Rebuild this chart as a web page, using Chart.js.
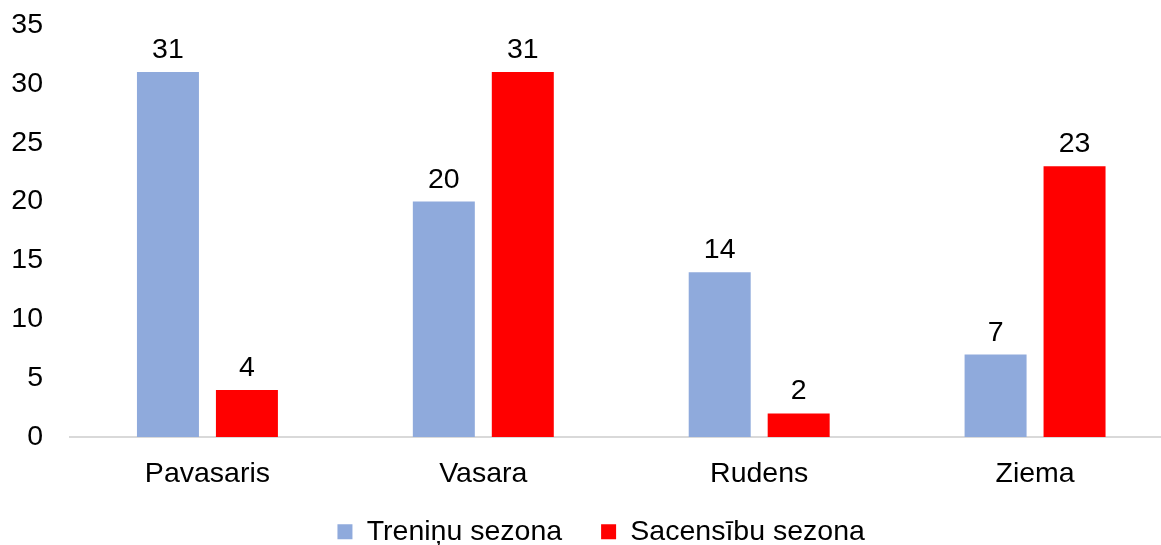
<!DOCTYPE html>
<html>
<head>
<meta charset="utf-8">
<script src="https://cdn.jsdelivr.net/npm/chart.js@4"></script>
<style>
html,body{margin:0;padding:0;background:#fff;overflow:hidden;}
#wrap{width:1161px;height:545px;}
</style>
</head>
<body>
<div id="wrap"><canvas id="c" width="1161" height="545"></canvas></div>
<script>
const categories = ["Pavasaris", "Vasara", "Rudens", "Ziema"];
const treninuSezona = [31, 20, 14, 7];
const sacensibuSezona = [4, 31, 2, 23];
const seriesNames = ["Treniņu sezona", "Sacensību sezona"];
const yTicks = [0, 5, 10, 15, 20, 25, 30, 35];

const FONT = "'Liberation Sans', Arial, sans-serif";
const FS = 28.5;

const valueLabels = {
  id: 'valueLabels',
  afterDatasetsDraw(chart) {
    const ctx = chart.ctx;
    ctx.save();
    ctx.font = FS + 'px ' + FONT;
    ctx.fillStyle = '#000';
    ctx.textAlign = 'center';
    ctx.textBaseline = 'alphabetic';
    chart.data.datasets.forEach((ds, i) => {
      const meta = chart.getDatasetMeta(i);
      meta.data.forEach((el, j) => {
        ctx.fillText(String(ds.data[j]), el.x, el.y - 14);
      });
    });
    ctx.restore();
  }
};

// Layout tweaks: the plot area runs slightly past the right edge (as in the original),
// the category labels are not clipped, and the legend sits a bit lower/right.
const layoutTweaks = {
  id: 'layoutTweaks',
  afterLayout(chart) {
    const x = chart.scales.x;
    x.right = 1173; x.width = x.right - x.left;
    x.bottom = chart.height; x.height = x.bottom - x.top;
    x.configure();
    chart.chartArea.right = 1173;
    chart.chartArea.width = chart.chartArea.right - chart.chartArea.left;
    const l = chart.legend;
    l.left += 15; l.right += 15;
    l.top += 11; l.bottom += 11;
  }
};

new Chart(document.getElementById('c'), {
  type: 'bar',
  data: {
    labels: categories,
    datasets: [
      { label: seriesNames[0], data: treninuSezona, backgroundColor: '#8FAADC',
        categoryPercentage: 0.5725, barPercentage: 0.785 },
      { label: seriesNames[1], data: sacensibuSezona, backgroundColor: '#FF0000',
        categoryPercentage: 0.5725, barPercentage: 0.785 }
    ]
  },
  options: {
    responsive: false,
    animation: false,
    layout: { padding: { left: 11.3, right: 0, top: 25, bottom: 0 } },
    plugins: {
      tooltip: { enabled: false },
      legend: {
        position: 'bottom',
        labels: {
          font: { size: FS, family: FONT },
          color: '#000',
          boxWidth: 15,
          boxHeight: 15,
          padding: 39
        }
      }
    },
    scales: {
      x: {
        grid: { display: false, drawTicks: false },
        border: { display: true, color: '#D9D9D9', width: 2 },
        ticks: { font: { size: FS, family: FONT }, color: '#000', padding: 20 },
        afterFit(s) { s.height = 30.5; s.paddingLeft = 0; s.paddingRight = 0; }
      },
      y: {
        min: 0, max: 35,
        afterBuildTicks(scale) { scale.ticks = yTicks.map(v => ({ value: v })); },
        grid: { display: false, drawTicks: false },
        border: { display: false },
        ticks: { font: { size: FS, family: FONT }, color: '#000', padding: 26.5 },
        afterFit(s) { s.width = 58.2; s.paddingTop = 0; s.paddingBottom = 0; }
      }
    }
  },
  plugins: [valueLabels, layoutTweaks]
});
</script>
</body>
</html>
